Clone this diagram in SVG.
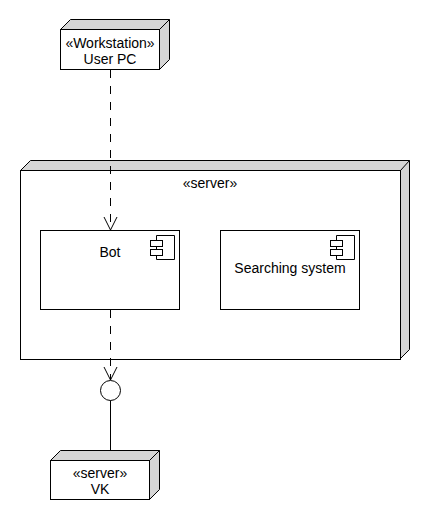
<svg xmlns="http://www.w3.org/2000/svg" width="430" height="520" viewBox="0 0 430 520">
<style>
.b{fill:#fff;stroke:#000;stroke-width:1}
.s{fill:#d6d6d6;stroke:#000;stroke-width:1}
.l{fill:none;stroke:#000;stroke-width:1}
text{font-family:"Liberation Sans",Arial,sans-serif;font-size:14px;fill:#000;text-anchor:middle}
</style>
<rect width="430" height="520" fill="#fff"/>
<g id="user-pc">
<path class="s" d="M60.500 29.500L70.500 19.500H169.500V59.500L159.500 69.500H60.500Z"/>
<rect class="b" x="60.500" y="29.500" width="99" height="40"/>
<path class="l" d="M159.500 29.500L169.500 19.500"/>
<text x="110" y="48">«Workstation»</text>
<text x="110" y="64">User PC</text>
</g>
<g id="server">
<path class="s" d="M20.500 170.500L30.500 160.500H409.500V349.500L399.500 359.500H20.500Z"/>
<rect class="b" x="20.500" y="170.500" width="380" height="189"/>
<path class="l" d="M400.500 170.500L409.500 160.500"/>
<text x="210" y="188">«server»</text>
</g>
<g id="bot">
<rect class="b" x="40.500" y="230.500" width="139" height="79"/>
<path class="l" d="M156.500 240V235.500H174.500V259.500H156.500V255M156.500 246V249"/>
<rect class="b" x="150.500" y="240.500" width="12" height="6"/>
<rect class="b" x="150.500" y="249.500" width="12" height="6"/>
<text x="110" y="257">Bot</text>
</g>
<g id="searching-system">
<rect class="b" x="220.500" y="230.500" width="139" height="79"/>
<path class="l" d="M336.500 240V235.500H354.500V259.500H336.500V255M336.500 246V249"/>
<rect class="b" x="330.500" y="240.500" width="12" height="6"/>
<rect class="b" x="330.500" y="249.500" width="12" height="6"/>
<text x="290" y="273">Searching system</text>
</g>
<g id="interface">
<circle class="b" cx="110.500" cy="390.500" r="10"/>
</g>
<g id="vk">
<path class="s" d="M50.500 460.500L60.500 450.500H159.500V489.500L149.500 499.500H50.500Z"/>
<rect class="b" x="50.500" y="460.500" width="99" height="39"/>
<path class="l" d="M149.500 460.500L159.500 450.500"/>
<text x="100" y="478">«server»</text>
<text x="100" y="494">VK</text>
</g>
<g id="connectors">
<path class="l" stroke-dasharray="8 8" d="M110.500 70V230"/>
<path class="l" d="M104 217L110.500 230L117 217"/>
<path class="l" stroke-dasharray="8 8" d="M110.500 310V380"/>
<path class="l" d="M104 367L110.500 380L117 367"/>
<path class="l" d="M110.500 400.500V450"/>
</g>
</svg>
